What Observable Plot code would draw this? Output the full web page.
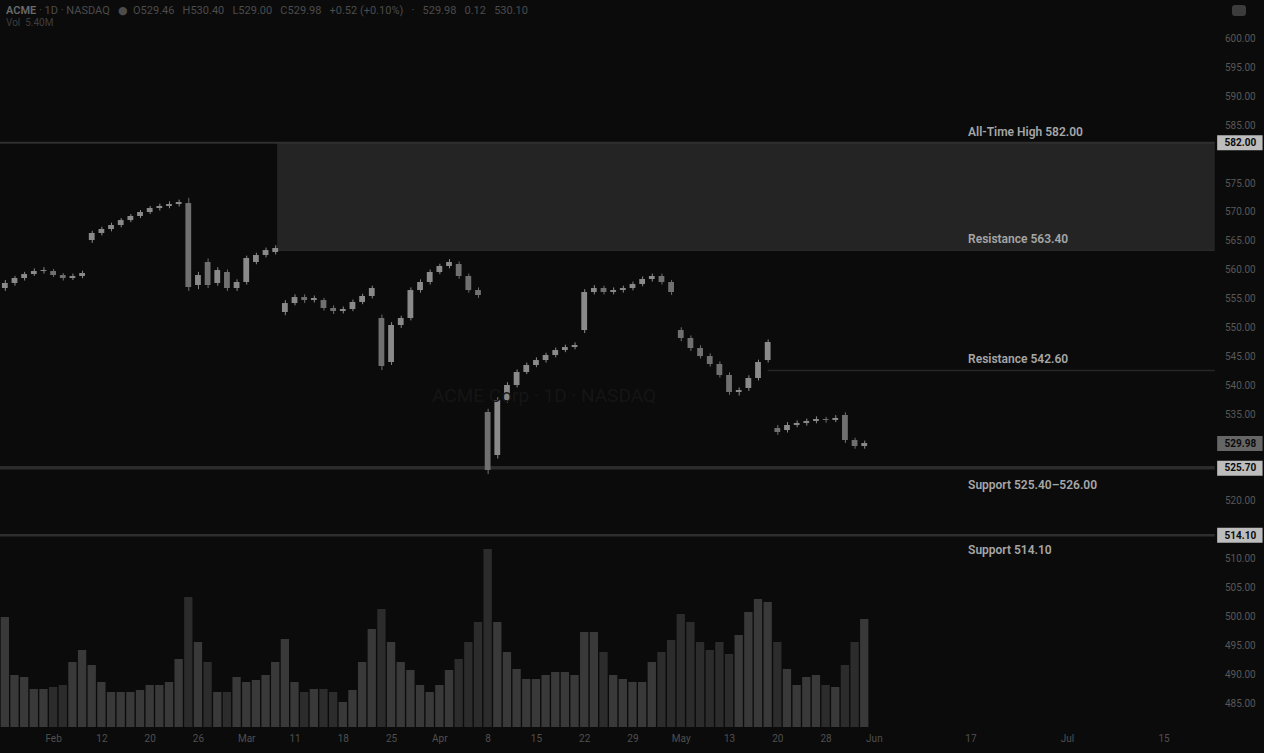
<!DOCTYPE html>
<html>
<head>
<meta charset="utf-8">
<script src="https://cdn.jsdelivr.net/npm/d3@7"></script>
<script src="https://cdn.jsdelivr.net/npm/@observablehq/plot@0.6"></script>
<style>
  html, body { margin: 0; padding: 0; background: #0b0b0b; }
  #wrap { position: relative; width: 1264px; height: 753px; overflow: hidden; background: #0b0b0b;
          font-family: Roboto, "DejaVu Sans", sans-serif; }
  #wrap svg { position: absolute; left: 0; top: 0; }
  .hdr { position: absolute; left: 6px; top: 4px; color: #4c4c4c; font-size: 11px; white-space: pre; }
  .hdr b { color: #6a6a6a; font-weight: 600; }
  .hdr2 { position: absolute; left: 6px; top: 17px; color: #3e3e3e; font-size: 10px; white-space: pre; }
  .wm { position: absolute; left: 432px; top: 384px; color: #151515; font-size: 19px; white-space: pre; }
  .icon { position: absolute; left: 1232px; top: 5px; width: 14px; height: 11px; border-radius: 3px; background: #3c3c3c; }
</style>
</head>
<body>
<div id="wrap">
  <div class="hdr"><b>ACME</b> · 1D · NASDAQ   ●  O529.46   H530.40   L529.00   C529.98   +0.52 (+0.10%)   ·   529.98   0.12   530.10</div>
  <div class="hdr2">Vol  5.40M</div>
  <div class="wm">ACME Corp · 1D · NASDAQ</div>
  <div class="icon"></div>
</div>
<script>
// ---------------- data ----------------
const opens = [556.80,557.67,558.53,559.22,559.74,559.74,559.05,558.53,558.88,565.10,
  566.32,567.01,567.70,568.56,569.26,569.95,570.64,570.99,571.33,571.50,
  557.32,561.30,557.67,559.57,556.80,557.84,561.30,562.51,563.03,552.65,
  554.20,555.24,554.72,554.72,553.34,552.82,553.17,554.38,555.42,551.61,
  544.00,550.40,551.61,556.45,557.84,559.57,560.61,560.95,558.88,556.45,
  535.35,527.91,537.42,540.02,542.27,543.48,544.34,545.21,546.07,546.59,
  549.53,556.11,556.80,556.11,556.45,556.80,557.49,558.36,558.88,557.84,
  549.53,548.15,546.42,545.03,543.65,541.75,538.81,539.50,541.23,544.34,
  532.58,532.23,533.10,533.45,533.79,534.14,533.97,534.83,530.50,529.46];
const closes = [557.67,558.53,559.22,559.74,559.91,559.05,558.53,558.88,559.39,566.32,
  567.01,567.70,568.56,569.26,569.95,570.64,570.99,571.33,571.68,556.97,
  559.05,557.32,559.91,556.80,557.84,561.99,562.51,563.37,563.72,554.20,
  555.24,554.72,555.07,553.34,552.82,553.17,554.38,555.42,556.80,543.31,
  550.40,551.61,556.45,557.84,559.57,560.61,561.30,558.88,556.45,555.59,
  525.31,537.42,540.02,542.27,543.48,544.34,545.21,546.07,546.59,546.94,
  556.11,556.80,556.11,556.45,556.80,557.49,558.36,558.88,557.84,556.11,
  548.15,546.42,545.03,543.65,541.75,538.81,539.15,541.23,544.00,547.46,
  531.89,533.10,533.45,533.79,534.14,533.97,534.31,530.50,529.46,529.98];
const highs = [558.2,558.9,559.6,560.2,560.4,560.1,559.4,559.3,559.8,566.7,
  567.4,568.1,568.9,569.6,570.3,571.0,571.4,571.8,572.1,572.4,
  559.6,561.9,560.4,560.0,558.3,562.4,562.9,563.8,564.2,554.7,
  555.7,555.7,555.5,555.1,553.8,553.6,554.8,555.8,557.2,552.2,
  550.9,552.0,556.9,558.3,560.0,561.0,561.8,561.4,559.3,556.9,
  535.9,537.9,540.5,542.7,543.9,544.8,545.6,546.5,547.0,547.4,
  556.6,557.3,557.2,556.9,557.2,557.9,558.8,559.3,559.3,558.2,
  550.0,548.6,546.9,545.5,544.1,542.2,539.6,541.7,544.4,547.9,
  533.1,533.6,533.9,534.2,534.6,534.5,534.8,535.3,530.9,530.4];
const lows = [556.3,557.2,558.1,558.9,559.3,558.7,558.1,558.2,558.5,564.6,
  565.9,566.6,567.3,568.2,568.9,569.6,570.2,570.6,570.9,556.3,
  556.6,556.8,557.2,556.3,556.3,557.4,560.9,562.1,562.6,552.1,
  553.8,554.2,554.3,552.9,552.3,552.4,552.8,554.0,555.0,542.6,
  543.5,549.9,551.2,556.0,557.4,559.2,560.2,558.4,556.0,555.1,
  524.6,527.3,537.0,539.6,541.9,543.1,543.9,544.8,545.7,546.2,
  549.0,555.7,555.7,555.7,556.0,556.4,557.1,557.9,557.4,555.6,
  547.6,545.9,544.6,543.2,541.3,538.3,538.2,539.0,540.8,543.9,
  531.4,531.8,532.7,533.0,533.4,533.5,533.6,530.0,529.0,529.0];
// volume, millions of shares
const volumes = [5.50,2.60,2.50,1.90,1.90,2.00,2.10,3.25,3.85,3.10,
  2.25,1.75,1.75,1.75,1.85,2.10,2.10,2.25,3.40,6.50,
  4.25,3.25,1.75,1.75,2.50,2.25,2.35,2.60,3.25,4.40,
  2.25,1.75,1.90,1.90,1.75,1.25,1.85,3.25,4.90,5.90,
  4.25,3.25,2.85,2.10,1.75,2.10,2.85,3.40,4.25,5.25,
  8.90,5.25,3.75,2.90,2.40,2.40,2.60,2.75,2.75,2.60,
  4.75,4.75,3.75,2.60,2.40,2.25,2.25,3.25,3.75,4.35,
  5.65,5.25,4.25,3.85,4.25,3.65,4.60,5.75,6.40,6.25,
  4.25,2.90,2.10,2.50,2.60,2.10,2.00,3.10,4.25,5.40];

// time axis (session index -> label)
const xTickIdx    = [5, 10, 15, 20, 25, 30, 35, 40, 45, 50, 55, 60, 65, 70, 75, 80, 85, 90, 100, 110, 120];
const xTickLabels = ["Feb","12","20","26","Mar","11","18","25","Apr","8","15","22","29","May","13","20","28","Jun","17","Jul","15"];

// price axis ticks
const priceTicks = [485,490,495,500,505,510,515,520,525,530,535,540,545,550,555,560,565,570,575,580,585,590,595,600];

// levels
const athValue = 582.00;
const resZoneLo = 563.40, resZoneHi = 582.00, resZoneStart = 28.2;
const res2Value = 542.60, res2Start = 79.0;
const supZoneLo = 525.40, supZoneHi = 526.00;
const sup2Value = 514.10;
const lastPrice = 529.98;

const levelAbove = [
  {value: athValue,  label: "All-Time High 582.00"},
  {value: resZoneLo, label: "Resistance 563.40"},
  {value: res2Value, label: "Resistance 542.60"}
];
const levelBelow = [
  {value: supZoneLo, label: "Support 525.40–526.00"},
  {value: sup2Value, label: "Support 514.10"}
];
const badgeValues = [athValue, lastPrice, (supZoneLo + supZoneHi) / 2, sup2Value];
const badgeFills  = ["#bdbdbd", "#666666", "#bdbdbd", "#bdbdbd"];

// ---------------- build ----------------
const W = 1264, H = 753;
const XD = [-0.5, 130.4];        // session index domain (incl. future space & price scale column)
const PANE_END = 125.3;           // right edge of the chart pane (session units)
const AXIS_X = 127.9;             // centre of the price-scale column
const LABEL_X = 99.7;             // where level captions start
const font = "Roboto, 'DejaVu Sans', sans-serif";

const candles = opens.map((o, i) => ({i, open: o, close: closes[i], high: highs[i], low: lows[i], vol: volumes[i], up: closes[i] >= o}));
const badges = badgeValues.map((v, k) => ({value: v, fill: badgeFills[k]}));
const visTicks = priceTicks.filter(t => badgeValues.every(b => Math.abs(t - b) > 2.1));

const volPlot = Plot.plot({
  width: W, height: H,
  marginLeft: 0, marginRight: 0, marginTop: 527, marginBottom: 26,
  x: {domain: XD, axis: null},
  y: {domain: [0, 10], axis: null},
  color: {type: "identity"},
  style: {background: "transparent"},
  marks: [
    Plot.rectY(candles, {x1: d => d.i - 0.43, x2: d => d.i + 0.43, y: "vol", fill: d => d.up ? "#393939" : "#2c2c2c"})
  ]
});

const pricePlot = Plot.plot({
  width: W, height: H,
  marginLeft: 0, marginRight: 0, marginTop: 0, marginBottom: 26,
  x: {domain: XD, axis: null},
  y: {domain: [480.85, 606.63], axis: null},
  color: {type: "identity"},
  style: {background: "transparent", fontFamily: font},
  marks: [
    // resistance zone
    Plot.rect([{}], {x1: resZoneStart, x2: PANE_END, y1: resZoneLo, y2: resZoneHi, fill: "#242424"}),
    // all-time high line (full width)
    Plot.ruleY([athValue], {x1: XD[0], x2: PANE_END, stroke: "#2f2f2f", strokeWidth: 2}),
    // zone bottom
    Plot.ruleY([resZoneLo], {x1: resZoneStart, x2: PANE_END, stroke: "#2a2a2a", strokeWidth: 1.5}),
    // second resistance
    Plot.ruleY([res2Value], {x1: res2Start, x2: PANE_END, stroke: "#272727", strokeWidth: 1.5}),
    // support zone
    Plot.rect([{}], {x1: XD[0], x2: PANE_END, y1: supZoneLo, y2: supZoneHi, fill: "#2c2c2c"}),
    // support 2
    Plot.ruleY([sup2Value], {x1: XD[0], x2: PANE_END, stroke: "#2e2e2e", strokeWidth: 2.5}),
    // candles
    Plot.ruleX(candles, {x: "i", y1: "low", y2: "high", stroke: d => d.up ? "#8a8a8a" : "#707070", strokeWidth: 1}),
    Plot.rect(candles, {x1: d => d.i - 0.3, x2: d => d.i + 0.3, y1: "open", y2: "close", fill: d => d.up ? "#8a8a8a" : "#707070"}),
    // level captions
    Plot.text(levelAbove, {x: () => LABEL_X, y: "value", text: "label", dy: -11, textAnchor: "start",
      fill: "#a6a6a6", fontSize: 12, fontWeight: 600}),
    Plot.text(levelBelow, {x: () => LABEL_X, y: "value", text: "label", dy: 15, textAnchor: "start",
      fill: "#a6a6a6", fontSize: 12, fontWeight: 600}),
    // price scale
    Plot.text(visTicks, {x: () => AXIS_X, y: d => d, text: d => d.toFixed(2), fill: "#585858", fontSize: 10}),
    Plot.ruleY(badges, {y: "value", x1: () => 125.55, x2: () => 130.25, stroke: "fill", strokeWidth: 15}),
    Plot.text(badges, {x: () => AXIS_X, y: "value", text: d => d.value.toFixed(2), fill: "#0b0b0b", fontSize: 10, fontWeight: 700}),
    // time scale
    Plot.axisX({ticks: xTickIdx, tickFormat: d => xTickLabels[xTickIdx.indexOf(d)], tickSize: 0, tickPadding: 7,
      label: null, fill: "#505050", fontSize: 10})
  ]
});

const wrap = document.getElementById("wrap");
wrap.insertBefore(volPlot, wrap.firstChild);
wrap.insertBefore(pricePlot, volPlot.nextSibling);
</script>
</body>
</html>
